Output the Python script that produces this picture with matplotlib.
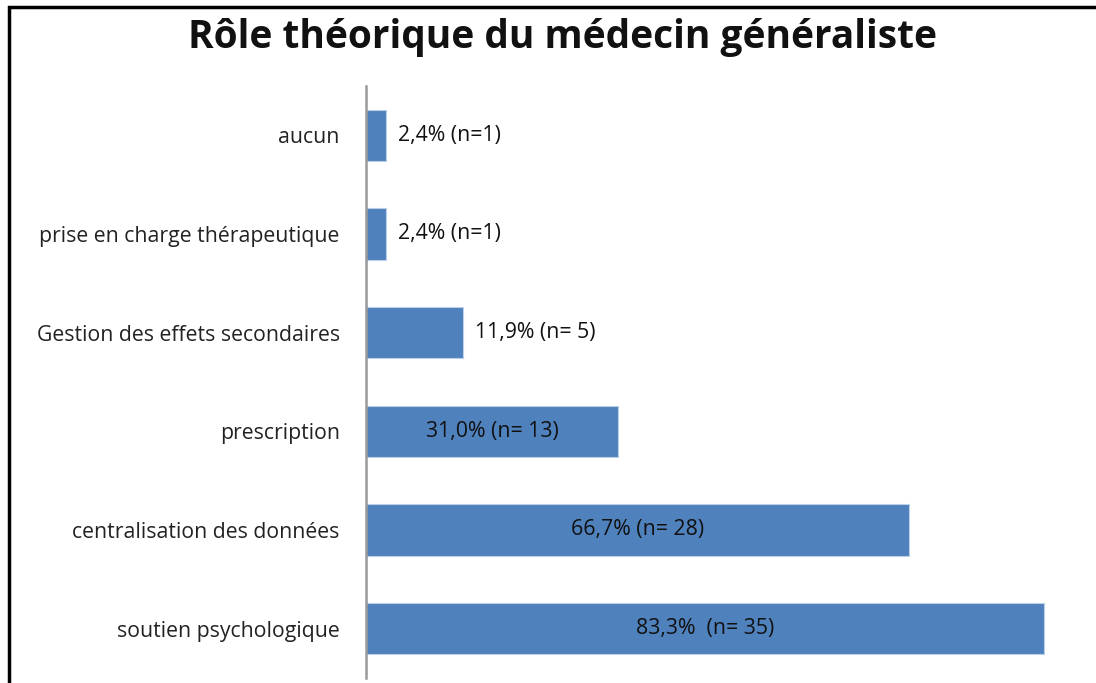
import matplotlib.pyplot as plt
from matplotlib.patches import Rectangle

plt.rcParams['font.family'] = ['Open Sans', 'DejaVu Sans']

# données (du haut vers le bas)
categories = ["aucun", "prise en charge thérapeutique", "Gestion des effets secondaires",
              "prescription", "centralisation des données", "soutien psychologique"]
valeurs = [2.4, 2.4, 11.9, 31.0, 66.7, 83.3]
etiquettes = ["2,4% (n=1)", "2,4% (n=1)", "11,9% (n= 5)",
              "31,0% (n= 13)", "66,7% (n= 28)", "83,3%  (n= 35)"]
interieur = [False, False, False, True, True, True]

fig = plt.figure(figsize=(10.96, 6.83), dpi=100)
ax = fig.add_axes([0.334, 0.0073, 0.666, 0.867])

pos = list(range(len(categories)))
ax.barh(pos, valeurs, height=0.52, color="#4F81BD", edgecolor="#BCD0E8", linewidth=0.8)
ax.set_ylim(len(categories) - 0.5, -0.5)
ax.set_xlim(0, 89.7)

ax.set_yticks(pos)
ax.set_yticklabels(categories, fontsize=15.3, color="#222222")
ax.tick_params(axis='y', length=0, pad=19)
ax.set_xticks([])
for s in ["top", "right", "bottom"]:
    ax.spines[s].set_visible(False)
ax.spines["left"].set_color("#999999")
ax.spines["left"].set_linewidth(1.8)

for p, v, t, dedans in zip(pos, valeurs, etiquettes, interieur):
    if dedans:
        ax.text(v / 2, p, t, ha="center", va="center", fontsize=15.3, color="#111111")
    else:
        ax.text(v + 1.5, p, t, ha="left", va="center", fontsize=15.3, color="#111111")

fig.text(0.513, 0.945, "Rôle théorique du médecin généraliste", ha="center", va="center",
         fontsize=28, fontweight="bold", color="#111111")

# cadre (coupé à droite et en bas)
fig.patches.append(Rectangle((0.0085, -0.05), 1.2, 1.04, transform=fig.transFigure,
                             fill=False, edgecolor="black", linewidth=2.5))

fig.savefig("out.png", dpi=100, facecolor="white")
